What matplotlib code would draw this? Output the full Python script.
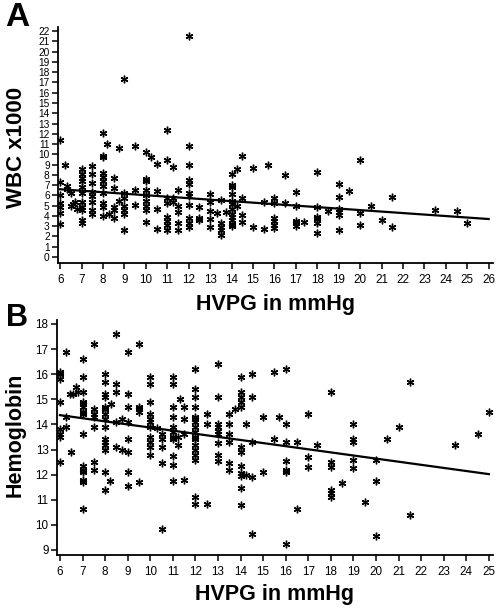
import numpy as np
import matplotlib
matplotlib.use("Agg")
import matplotlib.pyplot as plt

plt.rcParams["font.family"] = ["Liberation Sans", "DejaVu Sans"]

# --- panel A: WBC vs HVPG ---
wbc_x = [6, 6, 6, 6, 6, 6, 6,
         6.25, 6.3, 6.3, 6.5, 6.5, 6.7, 6.8, 6.6,
         7, 7, 7, 7, 7, 7, 7, 7, 7, 7, 7,
         7.5, 7.5, 7.5, 7.5, 7.5, 7.5, 7.5, 7.5,
         8, 8, 8, 8, 8, 8, 8, 8, 8, 8, 8,
         8.2,
         8.5, 8.5, 8.5, 8.5, 8.5, 8.3,
         8.75, 8.75,
         9, 9, 9, 9, 9, 9, 9,
         9.5, 9.5, 9.5,
         10, 10, 10, 10, 10, 10, 10, 10, 10,
         10.25,
         10.5, 10.5, 10.5, 10.5,
         11, 11, 11, 11, 11, 11, 11, 11,
         11.25, 11.25, 11.25,
         11.5, 11.5, 11.5, 11.5, 11.5,
         12, 12, 12, 12, 12, 12, 12, 12, 12, 12, 12,
         12.5, 12.5, 12.5,
         13, 13, 13, 13, 13,
         13.5, 13.5, 13.5, 13.5, 13.5, 13.3, 13.75,
         14, 14, 14, 14, 14, 14, 14, 14, 14, 14, 14, 14,
         14.25, 14.25,
         14.5, 14.5, 14.5, 14.5,
         15, 15,
         15.5, 15.5, 15.7,
         16, 16, 16, 16, 16, 16,
         16.5, 16.5,
         17, 17, 17, 17, 17,
         17.4,
         18, 18, 18, 18, 18, 18,
         18.5,
         19, 19, 19, 19, 19, 19,
         19.5,
         20, 20, 20,
         20.5, 21, 21.5, 21.5,
         23.5, 24.5, 25]
wbc_y = [11.4, 7.3, 6.0, 5.3, 4.9, 4.3, 3.2,
         9.0, 6.9, 6.6, 6.2, 5.0, 5.4, 4.7, 5.2,
         8.6, 8.1, 7.7, 7.4, 6.8, 6.2, 5.4, 4.9, 4.6, 3.6, 3.3,
         8.9, 8.1, 7.2, 6.3, 5.9, 5.4, 4.6, 4.2,
         12.1, 9.8, 9.7, 8.2, 7.8, 7.4, 6.9, 6.2, 5.3, 4.9, 4.0,
         11.0,
         7.7, 6.7, 4.9, 4.6, 3.8, 4.2,
         10.6, 5.5,
         17.3, 6.2, 5.7, 5.0, 4.6, 4.2, 2.6,
         10.8, 6.5, 5.1,
         10.2, 7.6, 7.4, 6.5, 6.0, 5.5, 5.0, 4.6, 3.4,
         9.7,
         9.1, 6.4, 4.7, 2.7,
         12.4, 9.4, 5.7, 5.3, 3.9, 3.5, 3.1, 2.6,
         8.8, 5.7, 5.4,
         6.5, 5.0, 4.4, 3.3, 2.6,
         21.5, 10.8, 9.0, 7.5, 7.1, 6.2, 5.9, 5.1, 3.8, 3.3, 2.9,
         4.9, 3.8, 3.6,
         6.1, 5.4, 4.5, 3.7, 2.9,
         5.6, 3.3, 2.9, 2.6, 2.1, 4.3, 4.4,
         8.1, 7.0, 6.8, 6.1, 5.5, 5.2, 4.7, 4.2, 3.9, 3.6, 3.2, 3.0,
         8.6, 5.0,
         9.8, 5.7, 4.1, 3.4,
         8.7, 2.9,
         5.35, 2.7, 9.0,
         5.7, 5.3, 3.8, 3.5, 3.1, 2.8,
         8.0, 5.3,
         6.3, 5.0, 3.5, 3.3, 3.0,
         3.4,
         8.3, 4.9, 3.9, 3.7, 3.3, 2.3,
         4.5,
         7.1, 5.8, 4.7, 4.4, 4.1, 2.6,
         6.4,
         9.4, 4.3, 3.1,
         5.0, 3.6, 5.8, 2.9,
         4.6, 4.5, 3.3]
wbc_fit_x = [6, 26]
wbc_fit_y = [6.6, 3.7]

# --- panel B: Hemoglobin vs HVPG ---
hb_x = [6, 6, 6, 6, 6, 6, 6, 6,
        6.25, 6.25, 6.25, 6.45, 6.6, 6.7, 6.8, 6.5,
        7, 7, 7, 7, 7, 7, 7, 7, 7, 7, 7, 7, 7, 7, 7,
        7.5, 7.5, 7.5, 7.5, 7.5, 7.5, 7.5,
        8, 8, 8, 8, 8, 8, 8, 8, 8, 8, 8, 8, 8, 8, 8,
        8.25, 8.2,
        8.5, 8.5, 8.5, 8.5, 8.5,
        8.75, 8.75,
        9, 9, 9, 9, 9, 9, 9, 9,
        9.5, 9.5, 9.5, 9.5, 9.5,
        10, 10, 10, 10, 10, 10, 10, 10, 10, 10, 10,
        10.3,
        10.5, 10.5, 10.5, 10.5, 10.5,
        11, 11, 11, 11, 11, 11, 11, 11, 11, 11, 11,
        11.25, 11.25, 11.3,
        11.5, 11.5, 11.5, 11.5,
        12, 12, 12, 12, 12, 12, 12, 12, 12, 12, 12, 12, 12, 12, 12, 12, 12,
        12.5, 12.5, 12.5,
        13, 13, 13, 13, 13, 13, 13, 13, 13,
        13.5, 13.5, 13.5, 13.5, 13.5, 13.5,
        13.75,
        14, 14, 14, 14, 14, 14, 14, 14, 14, 14, 14, 14,
        14.25, 14.25,
        14.5, 14.5, 14.5, 14.5, 14.5,
        15, 15,
        15.5, 15.5, 15.7,
        16, 16, 16, 16, 16, 16, 16,
        16.5, 16.5,
        17, 17, 17, 17.4,
        18, 18, 18, 18, 18, 18,
        18.5,
        19, 19, 19, 19, 19,
        19.5,
        20, 20, 20,
        20.5, 21, 21.5, 21.5,
        23.5, 24.5, 25]
hb_y = [16.1, 16.0, 15.8, 14.9, 13.8, 13.6, 13.5, 12.5,
        16.9, 14.3, 13.9, 15.2, 15.2, 15.5, 15.3, 12.9,
        16.6, 15.9, 15.3, 14.9, 14.8, 14.7, 14.5, 14.4, 13.6, 12.35, 12.2, 12.1, 11.8, 11.7, 10.65,
        17.2, 14.6, 14.4, 14.3, 13.9, 12.5, 12.2,
        16.0, 15.7, 15.2, 15.1, 14.7, 14.6, 14.4, 14.2, 13.9, 13.4, 13.3, 13.2, 13.0, 12.1, 11.4,
        14.8, 11.75,
        17.6, 15.6, 15.3, 14.1, 13.1,
        14.2, 13.0,
        16.9, 15.2, 14.7, 14.1, 13.4, 12.9, 12.1, 11.55,
        17.2, 14.7, 14.6, 14.5, 11.7,
        15.9, 15.6, 14.9, 14.4, 14.2, 14.1, 13.9, 13.5, 13.3, 13.1, 12.8,
        13.85,
        13.6, 13.4, 13.1, 12.45, 9.85,
        15.9, 15.6, 14.7, 14.3, 13.9, 13.7, 13.5, 13.4, 12.75, 12.4, 11.75,
        13.5, 13.2, 15.0,
        14.7, 14.2, 13.6, 11.8,
        16.2, 15.4, 15.1, 14.7, 14.3, 14.2, 14.1, 13.9, 13.7, 13.5, 13.4, 13.2, 13.0, 12.8, 12.6, 11.1, 10.85,
        14.4, 14.0, 10.85,
        16.4, 15.1, 14.0, 13.9, 13.75, 13.6, 13.25, 12.8, 12.55,
        14.4, 14.0, 13.6, 13.3, 12.45, 12.2,
        14.6,
        15.9, 15.3, 15.1, 14.9, 14.7, 13.1, 12.9, 12.35, 12.05, 11.95, 11.45, 10.8,
        14.0, 12.0,
        16.0, 15.1, 13.3, 11.9, 9.65,
        14.3, 12.1,
        16.1, 13.4, 14.3,
        16.2, 14.0, 13.3, 12.55, 12.2, 12.1, 9.25,
        13.3, 10.65,
        14.4, 12.7, 12.3, 13.2,
        15.3, 12.5, 12.3, 11.4, 11.25, 11.1,
        11.65,
        14.0, 13.4, 13.3, 12.6, 12.25,
        10.9,
        12.6, 11.75, 9.55,
        13.4, 13.9, 15.7, 10.4,
        13.2, 13.6, 14.5]
hb_fit_x = [6, 25]
hb_fit_y = [14.37, 12.02]

ASTER = (6, 2, 0)


def style_axes(ax, xticks, yticks, ytick_size):
    for side in ("top", "right"):
        ax.spines[side].set_visible(False)
    for side in ("left", "bottom"):
        ax.spines[side].set_linewidth(1.3)
    ax.set_xticks(xticks)
    ax.set_yticks(yticks)
    ax.tick_params(axis="both", direction="out", length=4, width=1.1, pad=2)
    ax.tick_params(axis="x", labelsize=8.4, pad=4)
    ax.tick_params(axis="y", labelsize=ytick_size)


fig = plt.figure(figsize=(5.03, 6.11), dpi=100)

# panel A
axA = fig.add_axes([0.1153, 0.5696, 0.8647, 0.3862])
axA.plot(wbc_x, wbc_y, linestyle="none", marker=ASTER, markersize=5.5,
         markeredgewidth=1.0, color="black")
axA.plot(wbc_fit_x, wbc_fit_y, color="black", linewidth=1.6)
axA.set_xlim(5.9, 26.2)
axA.set_ylim(-0.58, 22.4)
style_axes(axA, range(6, 27), range(0, 23), 7.3)

# panel B
axB = fig.add_axes([0.1133, 0.0917, 0.8667, 0.3846])
axB.plot(hb_x, hb_y, linestyle="none", marker=ASTER, markersize=5.5,
         markeredgewidth=1.0, color="black")
axB.plot(hb_fit_x, hb_fit_y, color="black", linewidth=1.6)
axB.set_xlim(5.87, 25.18)
axB.set_ylim(8.8, 18.16)
style_axes(axB, range(6, 26), range(9, 19), 8.4)

lab = dict(fontsize=15.5, fontweight="bold")
fig.text(0.548, 0.4926, "HVPG in mmHg", ha="center", va="baseline", **lab)
fig.text(0.546, 0.018, "HVPG in mmHg", ha="center", va="baseline", **lab)
fig.text(0.032, 0.758, "WBC x1000", rotation=90, ha="center", va="center",
         fontsize=16, fontweight="bold")
fig.text(0.030, 0.288, "Hemoglobin", rotation=90, ha="center", va="center", **lab)
fig.text(0.034, 0.972, "A", ha="center", va="center", fontsize=24, fontweight="bold")
fig.text(0.033, 0.480, "B", ha="center", va="center", fontsize=22, fontweight="bold")

fig.savefig("out.png", dpi=100)
